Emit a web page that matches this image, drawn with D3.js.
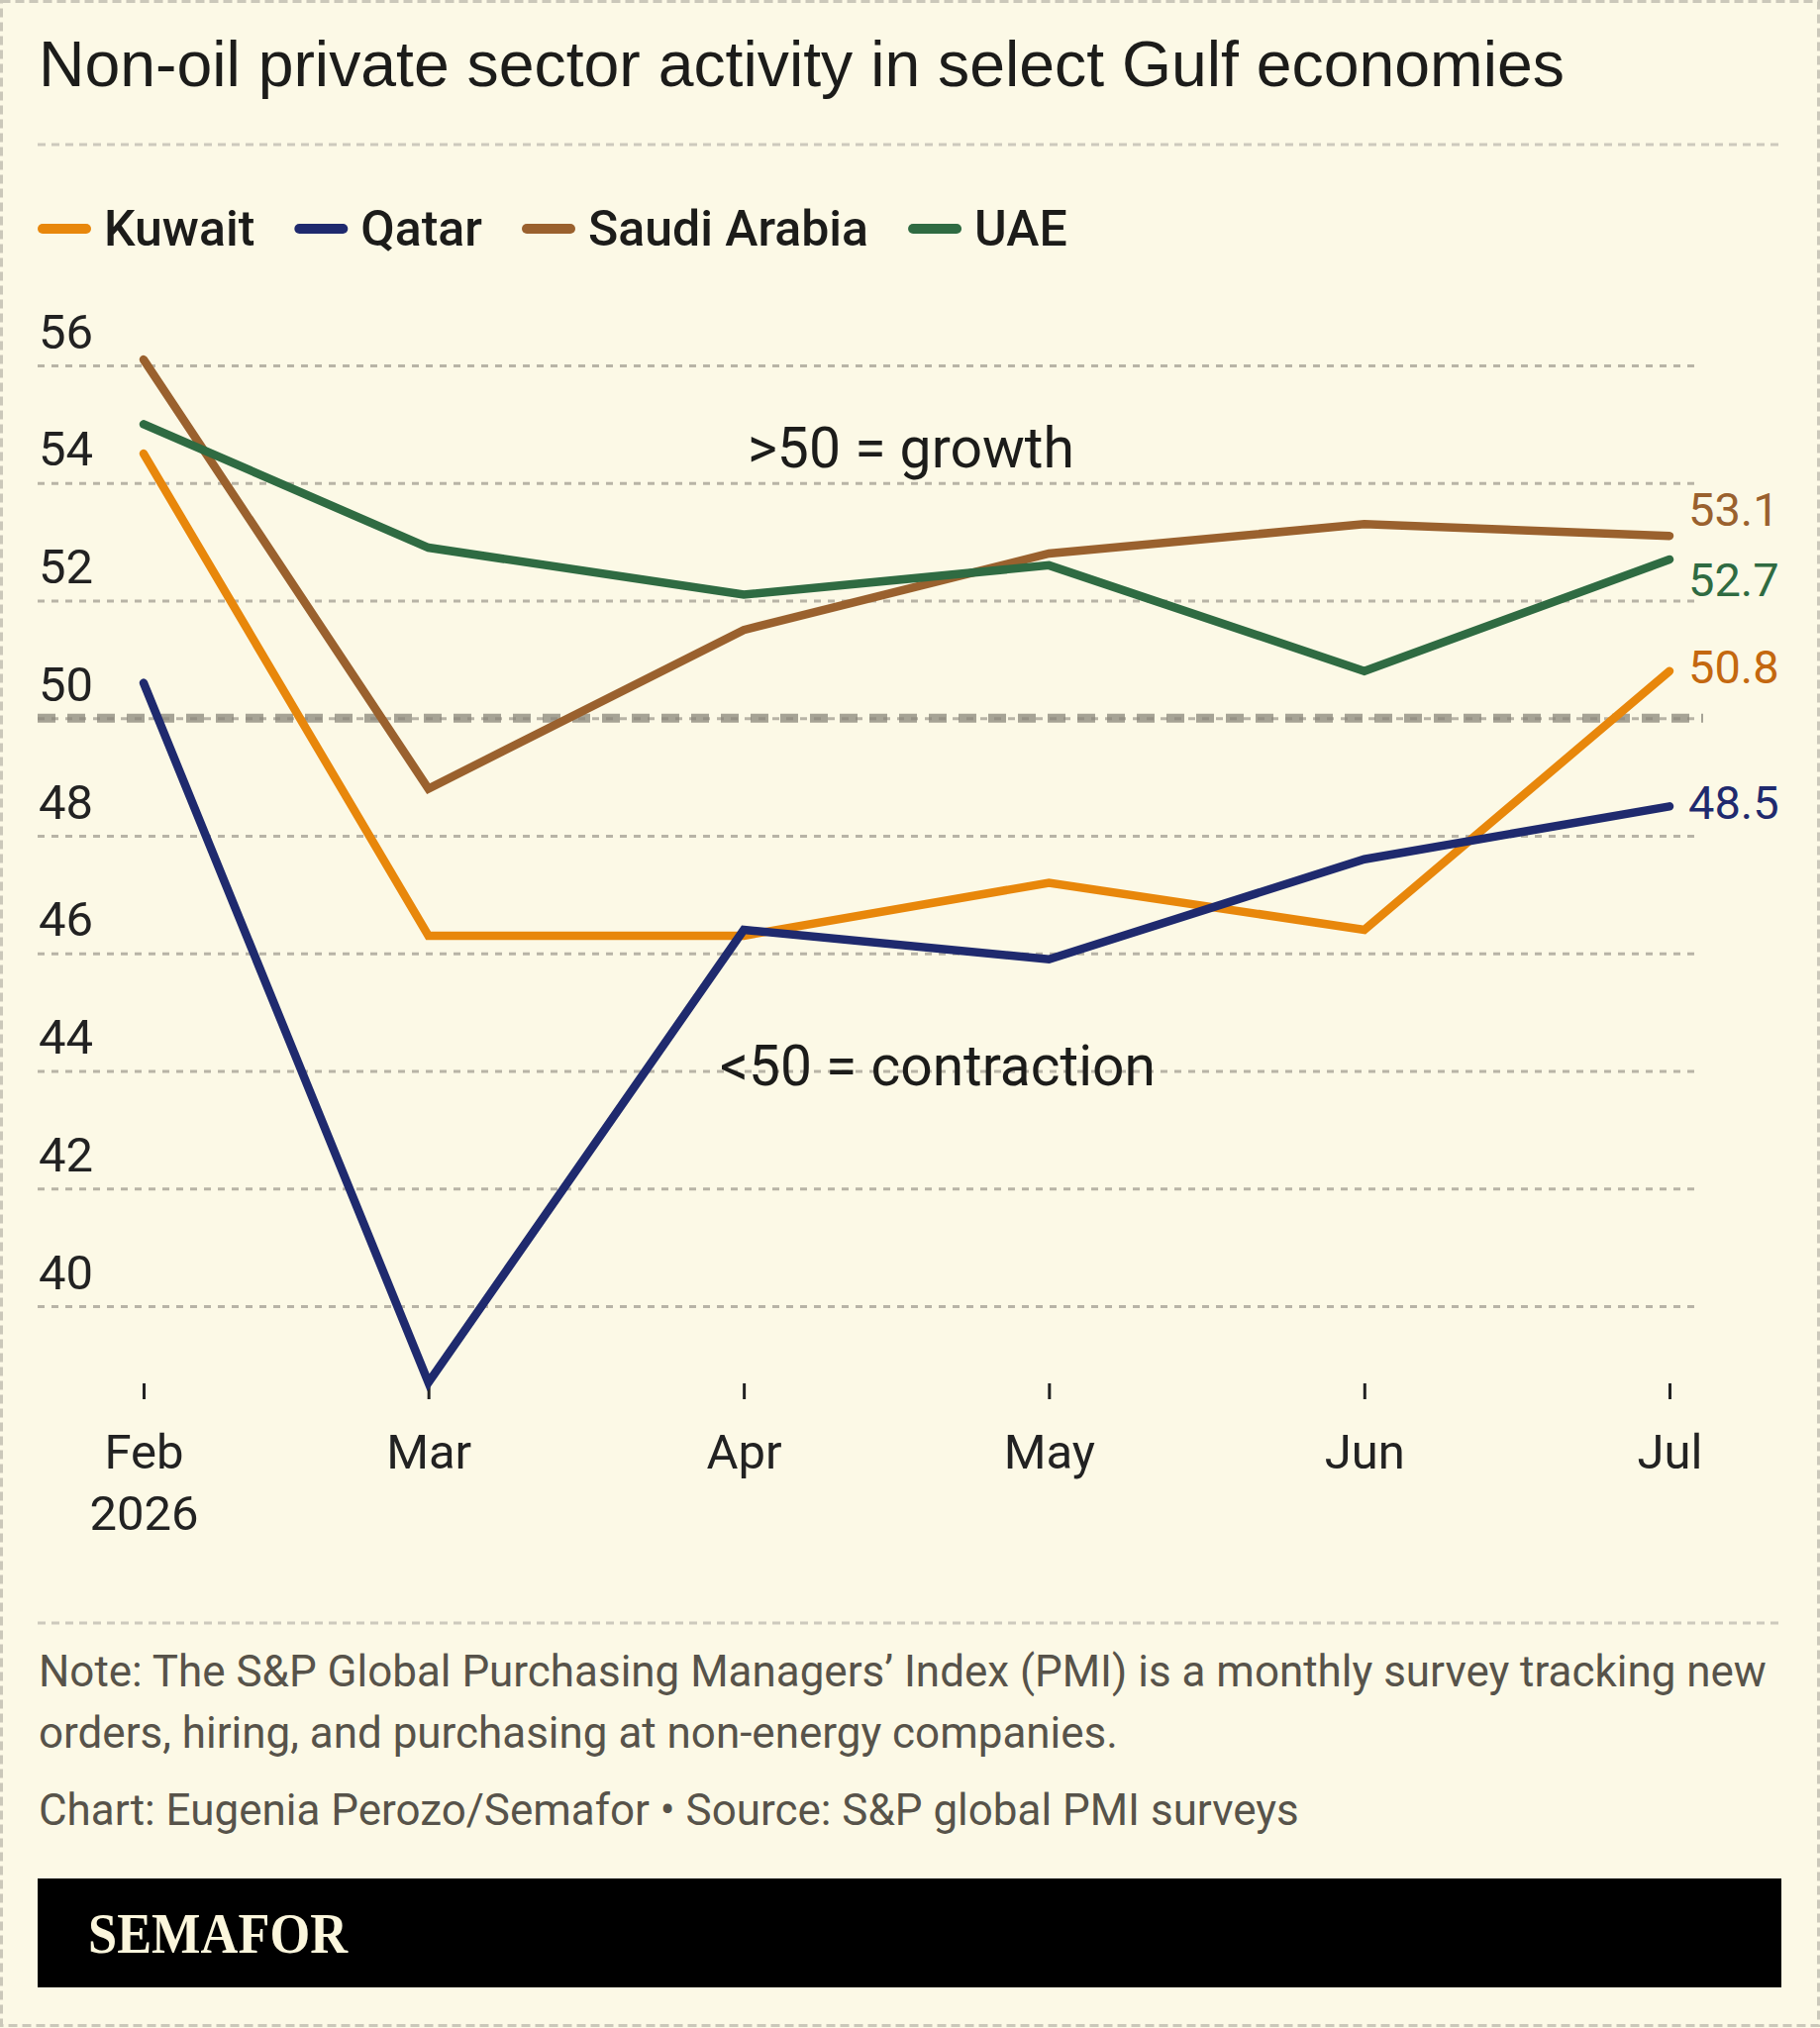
<!DOCTYPE html>
<html>
<head>
<meta charset="utf-8">
<script src="https://cdn.jsdelivr.net/npm/d3@7"></script>
<style>
  body { margin: 0; background: #fcf9e6; }
  text { font-family: Roboto, "Noto Sans", sans-serif; }
</style>
</head>
<body>
<div id="chart"></div>
<script>
// month starts, values (PMI)
const months = ["2026-02-01", "2026-03-01", "2026-04-01", "2026-05-01", "2026-06-01", "2026-07-01"];
const kuwait = [54.5, 46.3, 46.3, 47.2, 46.4, 50.8];
const qatar = [50.6, 38.7, 46.4, 45.9, 47.6, 48.5];
const saudi = [56.1, 48.8, 51.5, 52.8, 53.3, 53.1];
const uae = [55.0, 52.9, 52.1, 52.6, 50.8, 52.7];
const seriesNames = ["Kuwait", "Qatar", "Saudi Arabia", "UAE"];
const yTicks = [40, 42, 44, 46, 48, 50, 52, 54, 56];

const lineColors = ["#e8870b", "#1f2a6e", "#9a612e", "#2f6b42"];
const labelColors = ["#c4680f", "#1f2a6e", "#9a612e", "#2f6b42"];
// vertical nudge of end labels so they don't collide
const labelShift = [0, 0, -23, 25];

const fullWidth = 1838;
const fullHeight = 2048;
const parse = d3.timeParse("%Y-%m-%d");
const dates = months.map(parse);

const series = [kuwait, qatar, saudi, uae].map((vals, i) => ({
  name: seriesNames[i],
  values: vals.map((v, j) => ({ date: dates[j], value: v }))
}));

const svg = d3
  .select("#chart")
  .append("svg")
  .attr("width", fullWidth)
  .attr("height", fullHeight);

svg.append("rect")
  .attr("width", fullWidth)
  .attr("height", fullHeight)
  .attr("fill", "#fcf9e6");

// outer dashed frame
svg.append("rect")
  .attr("x", 1.5).attr("y", 1.5)
  .attr("width", fullWidth - 3).attr("height", fullHeight - 4)
  .attr("fill", "none")
  .attr("stroke", "#cbc8ba")
  .attr("stroke-width", 3)
  .attr("stroke-dasharray", "9 5");

// scale text so it spans a target width
function fit(sel, target) {
  const size = parseFloat(sel.attr("font-size"));
  const w = sel.node().getComputedTextLength();
  sel.attr("font-size", (size * target / w).toFixed(2));
  return sel;
}

// title
svg.append("text")
  .attr("x", 39).attr("y", 87)
  .attr("font-size", 64)
  .style("font-family", "'Liberation Sans', Arial, sans-serif")
  .attr("fill", "#1c1c1a")
  .text("Non-oil private sector activity in select Gulf economies")
  .call(fit, 1541);

const sep = (y) => svg.append("line")
  .attr("x1", 38).attr("x2", 1800)
  .attr("y1", y).attr("y2", y)
  .attr("stroke", "#cdcabd")
  .attr("stroke-width", 3)
  .attr("stroke-dasharray", "8 6");
sep(146);
sep(1639);

// legend
let lx = 38;
series.forEach((s, i) => {
  svg.append("line")
    .attr("x1", lx + 5).attr("x2", lx + 49)
    .attr("y1", 231).attr("y2", 231)
    .attr("stroke", lineColors[i])
    .attr("stroke-width", 10)
    .attr("stroke-linecap", "round");
  const t = svg.append("text")
    .attr("x", lx + 67).attr("y", 248)
    .attr("font-size", 50)
    .attr("font-weight", 500)
    .attr("fill", "#1c1c1a")
    .text(s.name);
  lx += 67 + t.node().getComputedTextLength() + 40;
});

// scales
const x = d3.scaleTime()
  .domain([dates[0], dates[dates.length - 1]])
  .range([145, 1686]);
const y = d3.scaleLinear()
  .domain([40, 56])
  .range([1319, 369]);

// grid + y labels
const yAxis = svg.append("g")
  .attr("transform", "translate(38,0)")
  .call(d3.axisRight(y).tickValues(yTicks).tickSize(1675).tickFormat(d3.format("d")));
yAxis.select(".domain").remove();
yAxis.selectAll(".tick line")
  .attr("stroke", "#b8b4a6")
  .attr("stroke-width", 3)
  .attr("stroke-dasharray", "7 7");
yAxis.selectAll(".tick text")
  .attr("x", 1)
  .attr("dy", -18)
  .attr("font-size", 49)
  .attr("fill", "#222")
  .style("font-family", "Roboto, sans-serif");

// 50 reference line
svg.append("line")
  .attr("x1", 38).attr("x2", 1720)
  .attr("y1", y(50)).attr("y2", y(50))
  .attr("stroke", "#8a867a")
  .attr("stroke-opacity", 0.75)
  .attr("stroke-width", 9)
  .attr("stroke-dasharray", "18 12");

// annotations
svg.append("text")
  .attr("x", 920).attr("y", 472)
  .attr("text-anchor", "middle")
  .attr("font-size", 60)
  .attr("fill", "#1c1c1a")
  .text(">50 = growth")
  .call(fit, 330);
svg.append("text")
  .attr("x", 947).attr("y", 1096)
  .attr("text-anchor", "middle")
  .attr("font-size", 60)
  .attr("fill", "#1c1c1a")
  .text("<50 = contraction")
  .call(fit, 440);

// x axis
const xAxis = svg.append("g")
  .attr("transform", "translate(0,1397)")
  .call(d3.axisBottom(x).tickValues(dates).tickSize(16).tickFormat(d3.timeFormat("%b")));
xAxis.select(".domain").remove();
xAxis.selectAll(".tick line")
  .attr("stroke", "#222")
  .attr("stroke-width", 3);
xAxis.selectAll(".tick text")
  .attr("y", 86)
  .attr("dy", 0)
  .attr("font-size", 49)
  .attr("fill", "#222")
  .style("font-family", "Roboto, sans-serif");
xAxis.select(".tick text")
  .append("tspan")
  .attr("x", 0)
  .attr("dy", 62)
  .text("2026");

// lines
const line = d3.line()
  .x(d => x(d.date))
  .y(d => y(d.value));

svg.append("g")
  .selectAll("path")
  .data(series)
  .enter()
  .append("path")
  .attr("d", d => line(d.values))
  .attr("fill", "none")
  .attr("stroke", (d, i) => lineColors[i])
  .attr("stroke-width", 8.5)
  .attr("stroke-linejoin", "miter")
  .attr("stroke-linecap", "round");

// end labels
svg.append("g")
  .selectAll("text")
  .data(series)
  .enter()
  .append("text")
  .attr("x", d => x(d.values[d.values.length - 1].date) + 19)
  .attr("y", (d, i) => y(d.values[d.values.length - 1].value) + 12.5 + labelShift[i])
  .attr("font-size", 47)
  .attr("fill", (d, i) => labelColors[i])
  .text(d => d3.format(".1f")(d.values[d.values.length - 1].value));

// notes
const note = [
  "Note: The S&P Global Purchasing Managers’ Index (PMI) is a monthly survey tracking new",
  "orders, hiring, and purchasing at non-energy companies."
];
const n1 = svg.append("text")
  .attr("x", 39).attr("y", 1703)
  .attr("font-size", 43)
  .attr("fill", "#57534a")
  .text(note[0])
  .call(fit, 1745);
svg.append("text")
  .attr("x", 39).attr("y", 1765)
  .attr("font-size", n1.attr("font-size"))
  .attr("fill", "#57534a")
  .text(note[1]);
svg.append("text")
  .attr("x", 39).attr("y", 1843)
  .attr("font-size", n1.attr("font-size"))
  .attr("fill", "#57534a")
  .text("Chart: Eugenia Perozo/Semafor • Source: S&P global PMI surveys");

// brand bar
svg.append("rect")
  .attr("x", 38).attr("y", 1897)
  .attr("width", 1761).attr("height", 110)
  .attr("fill", "#000");
svg.append("text")
  .attr("x", 89).attr("y", 1972)
  .attr("font-size", 57)
  .attr("font-weight", 700)
  .style("font-family", "'Liberation Serif', 'DejaVu Serif', serif")
  .attr("fill", "#fbf6dc")
  .attr("textLength", 262)
  .attr("lengthAdjust", "spacingAndGlyphs")
  .text("SEMAFOR");
</script>
</body>
</html>
